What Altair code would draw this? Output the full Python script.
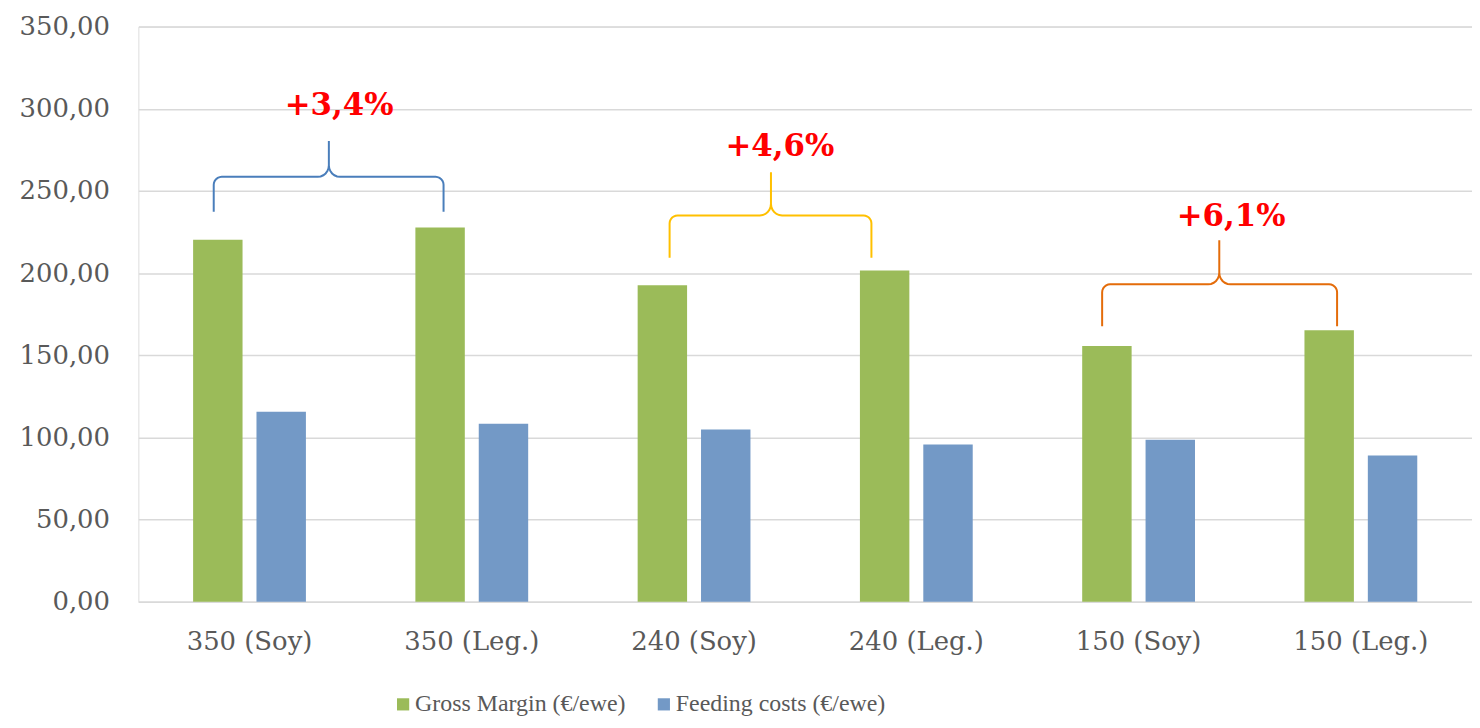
import math
import altair as alt
import pandas as pd

# ---- data ----
categories = ["350 (Soy)", "350 (Leg.)", "240 (Soy)", "240 (Leg.)", "150 (Soy)", "150 (Leg.)"]
gross_margin = [220.3, 227.7, 192.6, 201.6, 155.6, 165.3]
feeding_costs = [115.7, 108.4, 104.8, 95.7, 98.7, 89.0]
series_names = ["Gross Margin (€/ewe)", "Feeding costs (€/ewe)"]
series_colors = ["#9BBB59", "#7399C6"]
y_ticks = [0, 50, 100, 150, 200, 250, 300, 350]

# ---- annotations (x in category-index units, y in data units) ----
ann_labels = ["+3,4%", "+4,6%", "+6,1%"]
ann_x = [0.903, 2.886, 4.916]
ann_y = [301.6, 276.7, 234.3]
brace_left = [0.339, 2.390, 4.336]
brace_right = [1.373, 3.298, 5.393]
brace_mid = [0.857, 2.846, 4.863]
brace_bottom = [237.4, 209.3, 167.7]
brace_arm = [258.6, 235.1, 193.2]
brace_top = [280.4, 261.4, 220.0]
brace_colors = ["#4A7EBB", "#FFC000", "#E46C0A"]

GREY = "#595959"
GRID = "#D9D9D9"
FONT = "DejaVu Serif"

rows = []
for i, c in enumerate(categories):
    rows.append({"category": c, "series": series_names[0], "value": gross_margin[i]})
    rows.append({"category": c, "series": series_names[1], "value": feeding_costs[i]})
bars_df = pd.DataFrame(rows)

W = 1340
H = 578
yscale = alt.Scale(domain=[0, 350], nice=False)

bars = alt.Chart(bars_df).mark_bar().encode(
    x=alt.X("category:N", sort=categories,
            scale=alt.Scale(paddingInner=0.4925, paddingOuter=0.24625),
            axis=alt.Axis(title=None, labelAngle=0, labelFont=FONT, labelFontSize=26,
                          labelColor=GREY, ticks=False, domainColor=GRID, domainWidth=1.5,
                          labelPadding=27)),
    xOffset=alt.XOffset("series:N", sort=series_names,
                        scale=alt.Scale(paddingInner=0.22, paddingOuter=0)),
    y=alt.Y("value:Q", scale=yscale,
            axis=alt.Axis(title=None, values=y_ticks,
                          labelExpr="replace(format(datum.value, '.2f'), '.', ',')",
                          labelFont=FONT, labelFontSize=26, labelColor=GREY,
                          grid=True, gridColor=GRID, gridWidth=1.5, domain=False,
                          ticks=False, labelPadding=29, minExtent=131, maxExtent=131)),
    color=alt.Color("series:N", sort=series_names,
                    scale=alt.Scale(domain=series_names, range=series_colors),
                    legend=alt.Legend(title=None, orient="none", legendX=254, legendY=669,
                                      direction="horizontal", symbolType="square",
                                      symbolSize=150, symbolStrokeWidth=0,
                                      labelFont="Liberation Serif", labelFontSize=24,
                                      labelColor=GREY, columnPadding=26, labelOffset=0,
                                      labelLimit=400)),
)

xq = alt.Scale(domain=[0, 6], nice=False, zero=False)


def brace_points(L, R, C, b, h, p, ru=0.036, rv=4.8, rc=0.05, rcv=7.0, n=6):
    pts = [(L, b)]
    for k in range(n + 1):
        t = math.pi / 2 * k / n
        pts.append((L + ru - ru * math.cos(t), h - rv + rv * math.sin(t)))
    for k in range(n + 1):
        t = math.pi / 2 * k / n
        pts.append((C - rc + rc * math.sin(t), h + rcv - rcv * math.cos(t)))
    pts.append((C, p))
    for k in range(n, -1, -1):
        t = math.pi / 2 * k / n
        pts.append((C + rc - rc * math.sin(t), h + rcv - rcv * math.cos(t)))
    for k in range(n, -1, -1):
        t = math.pi / 2 * k / n
        pts.append((R - ru + ru * math.cos(t), h - rv + rv * math.sin(t)))
    pts.append((R, b))
    return pts


layers = [bars]
for i in range(len(brace_left)):
    pts = brace_points(brace_left[i], brace_right[i], brace_mid[i],
                       brace_bottom[i], brace_arm[i], brace_top[i])
    df = pd.DataFrame({"u": [q[0] for q in pts], "value": [q[1] for q in pts],
                       "o": list(range(len(pts)))})
    layers.append(
        alt.Chart(df).mark_line(color=brace_colors[i], strokeWidth=2).encode(
            x=alt.X("u:Q", scale=xq, axis=None),
            y=alt.Y("value:Q", scale=yscale, title=None),
            order="o:Q",
        )
    )

ann_df = pd.DataFrame({"label": ann_labels, "u": ann_x, "value": ann_y})
layers.append(
    alt.Chart(ann_df).mark_text(font=FONT, fontWeight="bold", fontSize=31,
                                color="#FF0000", align="center", baseline="middle").encode(
        x=alt.X("u:Q", scale=xq, axis=None),
        y=alt.Y("value:Q", scale=yscale, title=None),
        text="label:N",
    )
)

chart = alt.layer(*layers).resolve_scale(x="independent").properties(
    width=W, height=H,
    padding={"left": 0, "top": 4, "right": 0, "bottom": 0},
).configure_view(stroke=None).configure(background="white")

chart.save("out.html", embed_options={"renderer": "svg", "actions": False})
